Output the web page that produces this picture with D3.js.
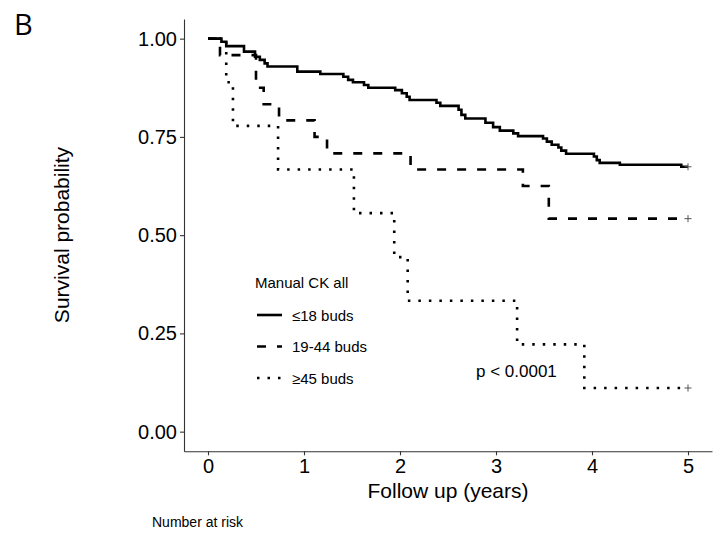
<!DOCTYPE html>
<html>
<head>
<meta charset="utf-8">
<script src="https://cdn.jsdelivr.net/npm/d3@7"></script>
<style>
  body { margin: 0; background: #fff; }
  text { font-family: "Liberation Sans", Arial, sans-serif; fill: #000; }
</style>
</head>
<body>
<div id="km-div"></div>
<script>
// survival curves (time in years, step value after each event)
var timeLow = [0, 0.14, 0.19, 0.375, 0.49, 0.54, 0.59, 0.62, 0.93, 1.17, 1.41, 1.46, 1.51, 1.625, 1.67,
  1.95, 2.02, 2.07, 2.10, 2.38, 2.42, 2.61, 2.64, 2.68, 2.89, 2.97, 3.04, 3.18, 3.23, 3.49, 3.53,
  3.58, 3.65, 3.68, 3.73, 4.02, 4.05, 4.08, 4.29, 4.93, 5];
var survLow = [1, 0.992, 0.981, 0.967, 0.954, 0.946, 0.937, 0.929, 0.916, 0.910, 0.903, 0.895, 0.889, 0.882, 0.875,
  0.869, 0.861, 0.852, 0.844, 0.837, 0.829, 0.819, 0.806, 0.797, 0.786, 0.775, 0.766, 0.759, 0.752, 0.746, 0.738,
  0.730, 0.723, 0.715, 0.707, 0.700, 0.691, 0.684, 0.679, 0.674, 0.674];

var timeMid = [0, 0.125, 0.5, 0.58, 0.74, 1.11, 1.24, 2.11, 3.28, 3.55, 5];
var survMid = [1, 0.958, 0.875, 0.833, 0.792, 0.75, 0.708, 0.667, 0.625, 0.542, 0.542];

var timeHigh = [0, 0.19, 0.26, 0.73, 1.52, 1.94, 2.08, 3.22, 3.92, 5];
var survHigh = [1, 0.889, 0.778, 0.667, 0.556, 0.444, 0.333, 0.222, 0.111, 0.111];

var groupLabels = ["\u226418 buds", "19-44 buds", "\u226545 buds"];
var groupDash = [null, "9,11", "2.5,8"];

var xTicks = [0, 1, 2, 3, 4, 5];
var yTicks = [0, 0.25, 0.5, 0.75, 1];

var width = 718, height = 539;

var svg = d3.select("#km-div")
  .append("svg")
    .attr("width", width)
    .attr("height", height);

var x = d3.scaleLinear().domain([-0.25, 5.25]).range([184, 712]);
var y = d3.scaleLinear().domain([-0.05, 1.05]).range([451.3, 19]);

// axes
var yAxis = svg.append("g")
  .attr("transform", "translate(184,0)")
  .call(d3.axisLeft(y)
    .tickValues(yTicks)
    .tickFormat(d3.format(".2f"))
    .tickSize(4)
    .tickSizeOuter(0)
    .tickPadding(3));

var xAxis = svg.append("g")
  .attr("transform", "translate(0,451.3)")
  .call(d3.axisBottom(x)
    .tickValues(xTicks)
    .tickFormat(d3.format("d"))
    .tickSize(4)
    .tickSizeOuter(0)
    .tickPadding(4));

[yAxis, xAxis].forEach(function(a) {
  a.select(".domain").attr("stroke", "#333").attr("stroke-width", 1.1);
  a.selectAll(".tick line").attr("stroke", "#333").attr("stroke-width", 1.1);
  a.selectAll(".tick text")
    .style("font-family", "Liberation Sans, Arial, sans-serif")
    .style("font-size", "20px")
    .attr("fill", "#111");
});

// axis titles
svg.append("text")
  .attr("x", 448)
  .attr("y", 498)
  .attr("text-anchor", "middle")
  .style("font-size", "21px")
  .text("Follow up (years)");

svg.append("text")
  .attr("transform", "translate(69,235) rotate(-90)")
  .attr("text-anchor", "middle")
  .style("font-size", "21px")
  .text("Survival probability");

svg.append("text")
  .attr("x", 14)
  .attr("y", 35)
  .style("font-family", "Open Sans, sans-serif")
  .style("font-size", "29px")
  .text("B");

svg.append("text")
  .attr("x", 152)
  .attr("y", 527)
  .style("font-size", "14px")
  .text("Number at risk");

// curves
var groups = [
  { t: timeLow, s: survLow },
  { t: timeMid, s: survMid },
  { t: timeHigh, s: survHigh }
];

var line = d3.line()
  .curve(d3.curveStepAfter)
  .x(function(d) { return x(d[0]); })
  .y(function(d) { return y(d[1]); });

groups.forEach(function(g, i) {
  var pts = g.t.map(function(t, j) { return [t, g.s[j]]; });
  svg.append("path")
    .datum(pts)
    .attr("fill", "none")
    .attr("stroke", "#000")
    .attr("stroke-width", 2.6)
    .attr("stroke-dasharray", groupDash[i])
    .attr("d", line);

  // censor mark at the end of follow-up
  var last = pts[pts.length - 1];
  svg.append("path")
    .attr("transform", "translate(" + x(last[0]) + "," + y(last[1]) + ")")
    .attr("d", d3.symbol(d3.symbolCross2 || d3.symbolPlus, 18)())
    .attr("fill", "none")
    .attr("stroke", "#555")
    .attr("stroke-width", 1);
});

// legend
var legend = svg.append("g");
legend.append("text")
  .attr("x", 255)
  .attr("y", 288)
  .style("font-size", "15px")
  .attr("fill", "#222")
  .text("Manual CK all");

groupLabels.forEach(function(lab, i) {
  var ly = 315 + i * 31.5;
  legend.append("line")
    .attr("x1", 257).attr("x2", 282)
    .attr("y1", ly).attr("y2", ly)
    .attr("stroke", "#000")
    .attr("stroke-width", 2.6)
    .attr("stroke-dasharray", groupDash[i]);
  legend.append("text")
    .attr("x", 292)
    .attr("y", ly + 5.5)
    .style("font-size", "15px")
    .text(lab);
});

svg.append("text")
  .attr("x", 476)
  .attr("y", 377)
  .style("font-size", "17px")
  .text("p < 0.0001");
</script>
</body>
</html>
